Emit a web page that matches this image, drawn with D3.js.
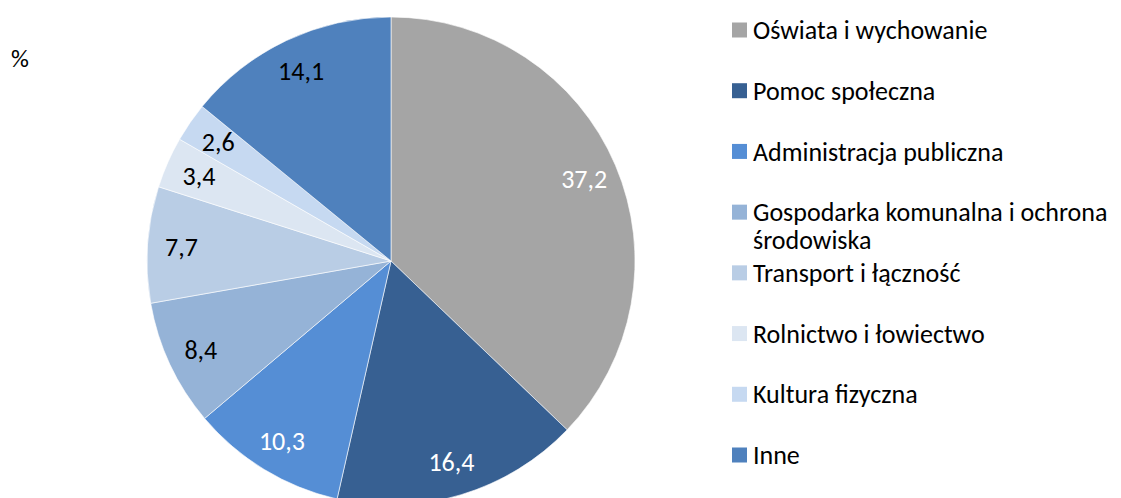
<!DOCTYPE html>
<html>
<head>
<meta charset="utf-8">
<script src="https://cdn.jsdelivr.net/npm/d3@7"></script>
<style>
  body { margin: 0; background: #fff; }
  svg { font-family: Carlito, Lato, 'Open Sans', sans-serif; }
</style>
</head>
<body>
<svg id="chart" width="1121" height="498"></svg>
<script>
// data
var categories = ['Oświata i wychowanie', 'Pomoc społeczna', 'Administracja publiczna',
  'Gospodarka komunalna i ochrona środowiska', 'Transport i łączność',
  'Rolnictwo i łowiectwo', 'Kultura fizyczna', 'Inne']
var values = [37.2, 16.4, 10.3, 8.4, 7.7, 3.4, 2.6, 14.1]
var labels = ['37,2', '16,4', '10,3', '8,4', '7,7', '3,4', '2,6', '14,1']
var colors = ['#a5a5a5', '#376092', '#558ed5', '#95b3d7', '#b9cde5', '#dce6f2', '#c6d9f1', '#4f81bd']
var labelColors = ['#fff', '#fff', '#fff', '#000', '#000', '#000', '#000', '#000']
var legendLines = [['Oświata i wychowanie'], ['Pomoc społeczna'], ['Administracja publiczna'],
  ['Gospodarka komunalna i ochrona', 'środowiska'], ['Transport i łączność'],
  ['Rolnictwo i łowiectwo'], ['Kultura fizyczna'], ['Inne']]

var svg = d3.select('#chart')
var cx = 391
var cy = 261
var radius = 244

svg.append('text')
  .attr('x', 11)
  .attr('y', 67)
  .attr('font-size', 25)
  .text('%')

var pie = d3.pie().sort(null).value(function (d) { return d })
var arcs = pie(values)
var arc = d3.arc().innerRadius(0).outerRadius(radius)
var labelArc = d3.arc().innerRadius(210).outerRadius(210)

var g = svg.append('g').attr('transform', 'translate(' + cx + ',' + cy + ')')

g.selectAll('path.slice')
  .data(arcs)
  .enter().append('path')
  .attr('class', 'slice')
  .attr('d', arc)
  .attr('fill', function (d, i) { return colors[i] })
  .attr('stroke', '#fff')
  .attr('stroke-width', 0.6)

g.selectAll('text.lbl')
  .data(arcs)
  .enter().append('text')
  .attr('class', 'lbl')
  .attr('transform', function (d) { return 'translate(' + labelArc.centroid(d) + ')' })
  .attr('text-anchor', 'middle')
  .attr('dy', '0.35em')
  .attr('font-size', 26)
  .attr('fill', function (d, i) { return labelColors[i] })
  .text(function (d, i) { return labels[i] })

// legend
var legendY = d3.scalePoint().domain(d3.range(categories.length)).range([30, 455])
var leg = svg.append('g')
var items = leg.selectAll('g')
  .data(categories)
  .enter().append('g')
  .attr('transform', function (d, i) { return 'translate(732,' + legendY(i) + ')' })

items.append('rect')
  .attr('x', 0)
  .attr('y', -7.5)
  .attr('width', 15)
  .attr('height', 15)
  .attr('fill', function (d, i) { return colors[i] })

items.append('text')
  .attr('x', 21)
  .attr('font-size', 26)
  .attr('fill', '#000')
  .selectAll('tspan')
  .data(function (d, i) { return legendLines[i] })
  .enter().append('tspan')
  .attr('x', 21)
  .attr('dy', function (d, j) { return j === 0 ? '0.35em' : '1.08em' })
  .text(function (d) { return d })
</script>
</body>
</html>
